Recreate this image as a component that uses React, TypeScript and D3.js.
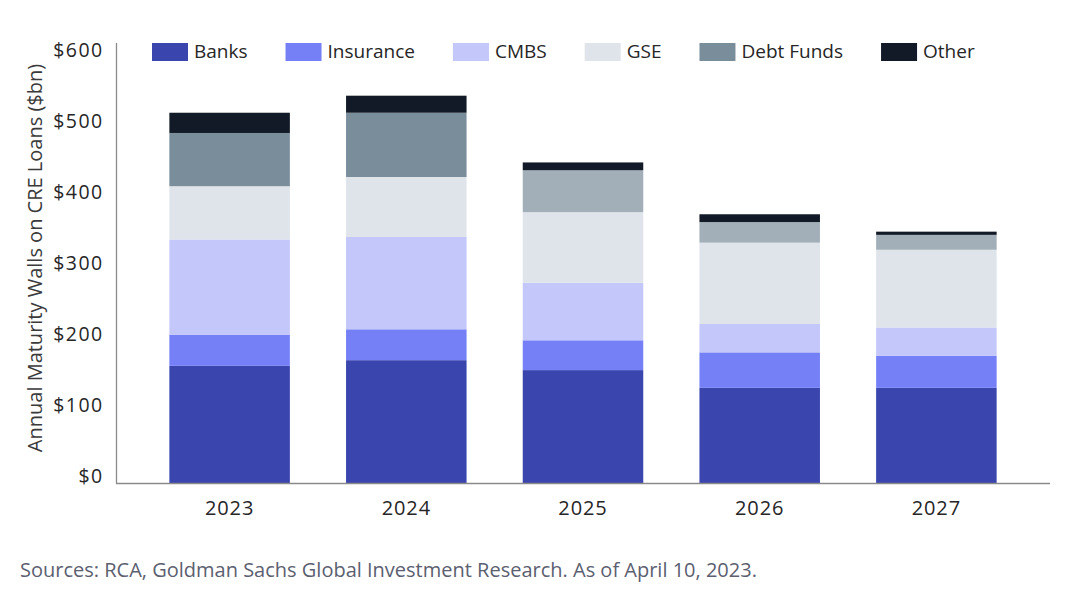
import React from "react";
import * as d3 from "d3";

const years = ["2023", "2024", "2025", "2026", "2027"];
const seriesNames = ["Banks", "Insurance", "CMBS", "GSE", "Debt Funds", "Other"];
const banks = [165, 173, 159, 134, 134];
const insurance = [44, 43.5, 42, 50, 45];
const cmbs = [134, 130, 81, 40, 40];
const gse = [75, 84.5, 99.5, 114.5, 109.5];
const debtFunds = [75, 90.5, 59, 29, 21];
const other = [28.5, 24, 11, 11, 4.5];
const yTicks = [0, 100, 200, 300, 400, 500, 600];
const yTitle = "Annual Maturity Walls on CRE Loans ($bn)";
const sourceNote = "Sources: RCA, Goldman Sachs Global Investment Research. As of April 10, 2023.";

const W = 1088;
const H = 596;
const FONT = "'Open Sans', 'Noto Sans', sans-serif";
const colors: Record<string, string> = {
  Banks: "#3a45ad",
  Insurance: "#7580f7",
  CMBS: "#c3c7fa",
  GSE: "#dfe3ea",
  "Debt Funds": "#7a8d9b",
  Other: "#111a26",
};
const debtFundsLater = "#a2afb8";

function measure(text: string, size: number): number {
  const c = document.createElement("canvas").getContext("2d");
  if (!c) return text.length * size * 0.55;
  c.font = `${size}px 'Open Sans'`;
  return c.measureText(text).width;
}

export default function App() {
  const rows = years.map((y, i) => ({
    year: y,
    Banks: banks[i],
    Insurance: insurance[i],
    CMBS: cmbs[i],
    GSE: gse[i],
    "Debt Funds": debtFunds[i],
    Other: other[i],
  }));
  const stack = d3.stack<any>().keys(seriesNames)(rows);

  const x = d3
    .scaleBand<string>()
    .domain(years)
    .range([116, 1050])
    .paddingInner(0.318)
    .paddingOuter(0.302);
  const y = d3.scaleLinear().domain([0, 600]).range([483, 57]);

  const legendSize = 19;
  let lx = 152;
  const legendItems = seriesNames.map((name) => {
    const item = { name, x: lx };
    lx += 36 + 6 + measure(name, legendSize) + 38;
    return item;
  });

  return (
    <div style={{ position: "absolute", left: 0, top: 0, background: "#fff" }}>
      <svg width={W} height={H} style={{ display: "block", fontFamily: FONT }}>
        <rect width={W} height={H} fill="#fff" />
        {stack.map((s) =>
          s.map((d, i) => (
            <rect
              key={s.key + i}
              x={x(years[i])}
              width={x.bandwidth()}
              y={y(d[1])}
              height={y(d[0]) - y(d[1])}
              fill={s.key === "Debt Funds" && i >= 2 ? debtFundsLater : colors[s.key]}
            />
          ))
        )}
        <line x1={116.5} x2={116.5} y1={43} y2={483.5} stroke="#8a8a8a" strokeWidth={1.3} />
        <line x1={116} x2={1050} y1={483.5} y2={483.5} stroke="#8a8a8a" strokeWidth={1.3} />
        {yTicks.map((t) => (
          <text
            key={t}
            x={103.5}
            y={y(t)}
            textAnchor="end"
            fontSize={19.5}
            letterSpacing={1.4}
            fill="#262626"
          >
            {d3.format("$,")(t)}
          </text>
        ))}
        {years.map((yr) => (
          <text
            key={yr}
            x={(x(yr) as number) + x.bandwidth() / 2}
            y={515}
            textAnchor="middle"
            fontSize={20}
            letterSpacing={0.9}
            fill="#262626"
          >
            {yr}
          </text>
        ))}
        <text
          transform={`translate(42, 258) rotate(-90)`}
          textAnchor="middle"
          fontSize={20}
          fill="#3a3a3a"
        >
          {yTitle}
        </text>
        {legendItems.map((it) => (
          <g key={it.name}>
            <rect x={it.x} y={43} width={36} height={18} fill={colors[it.name]} />
            <text x={it.x + 42} y={58} fontSize={legendSize} fill="#262626">
              {it.name}
            </text>
          </g>
        ))}
        <text x={20} y={577} fontSize={20} fill="#5b6070">
          {sourceNote}
        </text>
      </svg>
    </div>
  );
}
